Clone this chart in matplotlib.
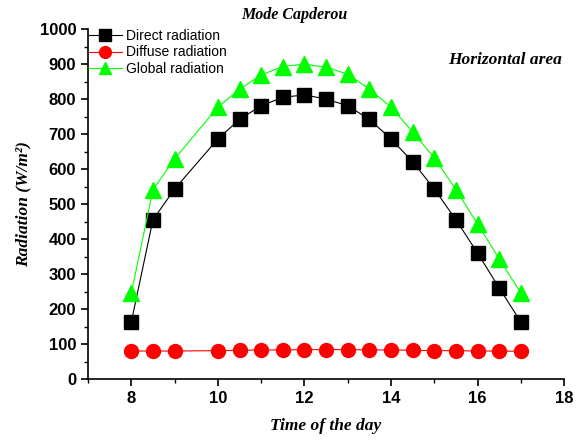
import matplotlib
matplotlib.use('Agg')
import matplotlib.pyplot as plt
from matplotlib.ticker import MultipleLocator

# Data
hours = [8, 8.5, 9, 10, 10.5, 11, 11.5, 12, 12.5, 13, 13.5, 14, 14.5, 15, 15.5, 16, 16.5, 17]
direct = [163, 455, 543, 686, 742, 781, 805, 812, 800, 781, 742, 686, 621, 543, 455, 360, 260, 163]
diffuse = [80, 80, 80, 81, 82, 83, 83, 84, 84, 84, 83, 83, 82, 81, 81, 80, 80, 79]
glob = [246, 541, 629, 777, 828, 869, 893, 900, 891, 871, 829, 777, 706, 632, 541, 443, 343, 246]

fig = plt.figure(figsize=(5.81, 4.41), dpi=100)
ax = fig.add_axes([0.1515, 0.1406, 0.8195, 0.7934])

ax.plot(hours, direct, '-', color='black', lw=0.8, marker='s', ms=10,
        mfc='black', mec='black', label='Direct radiation')
ax.plot(hours, diffuse, '-', color='red', lw=0.8, marker='o', ms=10,
        mfc='red', mec='red', label='Diffuse radiation')
ax.plot(hours, glob, '-', color='#00ff00', lw=0.8, marker='^', ms=11,
        mfc='#00ff00', mec='#00ff00', label='Global radiation')

ax.set_xlim(7, 18)
ax.set_ylim(0, 1000)
ax.xaxis.set_major_locator(MultipleLocator(2))
ax.xaxis.set_minor_locator(MultipleLocator(1))
ax.yaxis.set_major_locator(MultipleLocator(100))
ax.yaxis.set_minor_locator(MultipleLocator(50))
ax.tick_params(which='major', direction='out', length=5, width=1.2)
ax.tick_params(which='minor', direction='out', length=3, width=1)
for lab in ax.get_xticklabels() + ax.get_yticklabels():
    lab.set_fontweight('bold')
    lab.set_fontsize(12)
    lab.set_family('Liberation Sans')

for s in ['top', 'right']:
    ax.spines[s].set_visible(False)
for s in ['left', 'bottom']:
    ax.spines[s].set_linewidth(1.2)

serif = 'Liberation Serif'
ax.set_xlabel('Time of the day', fontsize=12.5, fontweight='bold', style='italic',
              family=serif, labelpad=9)
ax.set_ylabel('Radiation (W/m²)', fontsize=12.5, fontweight='bold', style='italic',
              family=serif, labelpad=6)
fig.text(0.506, 0.965, 'Mode Capderou', fontsize=11.5, fontweight='bold', style='italic',
         family=serif, ha='center', va='center')
fig.text(0.87, 0.863, 'Horizontal area', fontsize=12.5, fontweight='bold', style='italic',
         family=serif, ha='center', va='center')

leg = ax.legend(loc='upper left', bbox_to_anchor=(-0.025, 1.035), frameon=False,
                handlelength=2.4, handletextpad=0.3, labelspacing=0.15,
                prop={'family': 'Liberation Sans', 'size': 10}, markerscale=0.85)

fig.savefig('out.png', dpi=100)
